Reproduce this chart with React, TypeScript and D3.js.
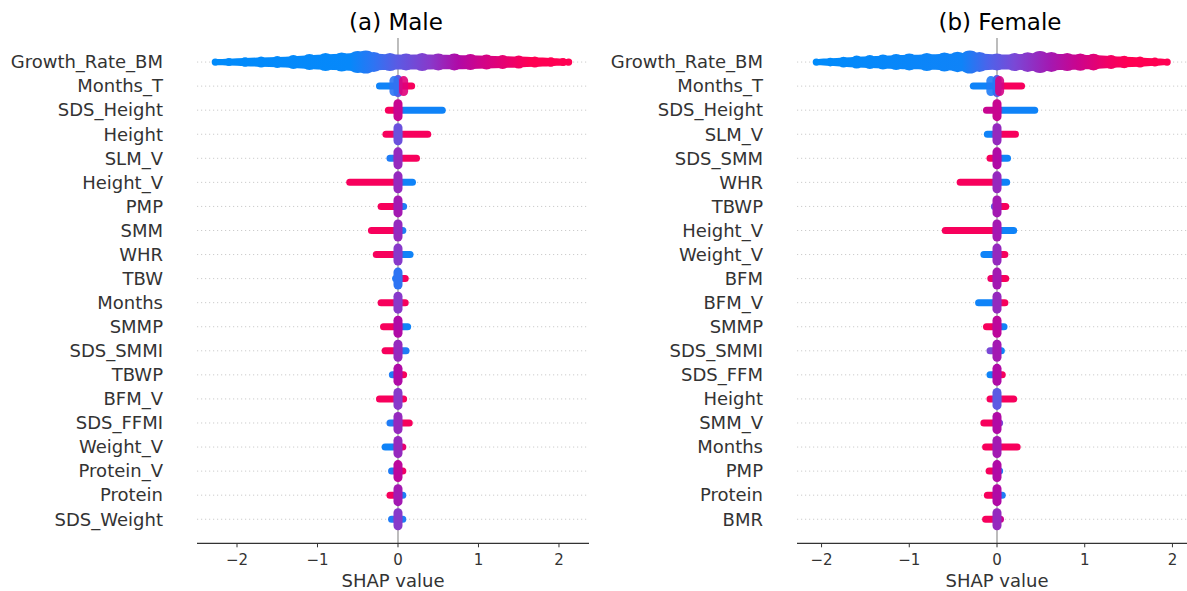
import React from "react";
import * as d3 from "d3";

// ---- data ----
const MALE_FEATURES = ["Growth_Rate_BM", "Months_T", "SDS_Height", "Height", "SLM_V", "Height_V", "PMP", "SMM", "WHR", "TBW", "Months", "SMMP", "SDS_SMMI", "TBWP", "BFM_V", "SDS_FFMI", "Weight_V", "Protein_V", "Protein", "SDS_Weight"];
// min / max SHAP value of each row (row 0 is drawn from its profile)
const MALE_LO = [null, -0.23, -0.12, -0.15, -0.1, -0.6, -0.21, -0.33, -0.27, -0.03, -0.21, -0.18, -0.16, -0.07, -0.23, -0.1, -0.16, -0.08, -0.1, -0.08];
const MALE_HI = [null, 0.17, 0.55, 0.37, 0.23, 0.18, 0.07, 0.06, 0.15, 0.09, 0.09, 0.12, 0.1, 0.07, 0.07, 0.14, 0.06, 0.06, 0.06, 0.06];
// feature value (0 low .. 1 high) at the low end, the high end and the centre
const MALE_LO_T = [null, 0.05, 0.95, 0.95, 0.1, 0.95, 0.95, 0.95, 0.95, 0.1, 0.95, 0.95, 0.95, 0.1, 0.95, 0.1, 0.05, 0.1, 0.95, 0.1];
const MALE_HI_T = [null, 0.95, 0.05, 0.95, 0.95, 0.05, 0.1, 0.1, 0.05, 0.95, 0.95, 0.05, 0.1, 0.95, 0.95, 0.95, 0.85, 0.9, 0.1, 0.1];
const MALE_CORE_T = [null, 0.3, 0.7, 0.35, 0.5, 0.5, 0.55, 0.5, 0.45, 0.15, 0.45, 0.6, 0.5, 0.6, 0.45, 0.5, 0.5, 0.65, 0.55, 0.45];
const MALE_EXTRA_CORES = [[1, -0.05, 0.15], [1, 0.07, 0.8]];
const MALE_TOP_PROFILE = [[-2.27, 0.3], [-2.1, 0.33], [-1.9, 0.4], [-1.7, 0.46], [-1.5, 0.5], [-1.3, 0.58], [-1.1, 0.67], [-0.9, 0.75], [-0.7, 0.79], [-0.5, 0.92], [-0.4, 0.96], [-0.3, 0.83], [-0.1, 0.75], [0.1, 0.71], [0.3, 0.75], [0.5, 0.71], [0.7, 0.71], [0.9, 0.67], [1.1, 0.62], [1.3, 0.58], [1.5, 0.54], [1.7, 0.46], [1.9, 0.4], [2.05, 0.33], [2.12, 0.3]];
const MALE_TOP_COLOR = [[-2.3, 0], [-0.6, 0.02], [-0.3, 0.15], [0.0, 0.3], [0.4, 0.45], [0.75, 0.6], [1.0, 0.72], [1.4, 0.88], [1.65, 1], [2.2, 1]];

const FEMALE_FEATURES = ["Growth_Rate_BM", "Months_T", "SDS_Height", "SLM_V", "SDS_SMM", "WHR", "TBWP", "Height_V", "Weight_V", "BFM", "BFM_V", "SMMP", "SDS_SMMI", "SDS_FFM", "Height", "SMM_V", "Months", "PMP", "Protein", "BMR"];
const FEMALE_LO = [null, -0.27, -0.12, -0.11, -0.08, -0.42, -0.03, -0.59, -0.15, -0.07, -0.21, -0.12, -0.08, -0.08, -0.08, -0.15, -0.13, -0.09, -0.11, -0.13];
const FEMALE_HI = [null, 0.28, 0.43, 0.21, 0.12, 0.11, 0.1, 0.19, 0.09, 0.1, 0.09, 0.08, 0.05, 0.06, 0.19, 0.03, 0.23, 0.03, 0.06, 0.04];
const FEMALE_LO_T = [null, 0.05, 0.7, 0.05, 0.95, 0.95, 0.3, 0.95, 0.05, 0.9, 0.05, 0.95, 0.4, 0.05, 0.95, 0.95, 0.95, 0.95, 0.95, 0.95];
const FEMALE_HI_T = [null, 0.95, 0.05, 0.95, 0.05, 0.05, 0.95, 0.05, 0.95, 0.95, 0.95, 0.05, 0.05, 0.95, 0.95, 0.4, 0.95, 0.1, 0.1, 0.7];
const FEMALE_CORE_T = [null, 0.3, 0.7, 0.5, 0.6, 0.5, 0.55, 0.55, 0.5, 0.55, 0.5, 0.65, 0.55, 0.6, 0.3, 0.6, 0.55, 0.6, 0.6, 0.5];
const FEMALE_EXTRA_CORES = [[1, -0.07, 0.1], [1, 0.03, 0.75]];
const FEMALE_TOP_PROFILE = [[-2.06, 0.3], [-1.9, 0.36], [-1.75, 0.45], [-1.6, 0.54], [-1.45, 0.58], [-1.3, 0.62], [-1.15, 0.67], [-1.0, 0.71], [-0.8, 0.75], [-0.6, 0.79], [-0.45, 0.85], [-0.31, 0.96], [-0.2, 0.83], [0, 0.71], [0.2, 0.75], [0.35, 0.82], [0.49, 0.92], [0.62, 0.83], [0.8, 0.75], [0.95, 0.72], [1.1, 0.7], [1.3, 0.58], [1.45, 0.52], [1.63, 0.46], [1.8, 0.37], [1.94, 0.3]];
const FEMALE_TOP_COLOR = [[-2.1, 0], [-0.4, 0.05], [-0.1, 0.25], [0.2, 0.4], [0.6, 0.55], [0.9, 0.7], [1.25, 0.9], [1.5, 1], [2.0, 1]];

const X_TICKS = [-2, -1, 0, 1, 2];

// ---- styling ----
const W = 1187;
const H = 591;
const FONT = "DejaVu Sans, sans-serif";
const TEXT = "#333333";
const color = d3
  .scaleLinear<string>()
  .domain([0, 0.2, 0.4, 0.6, 0.8, 1])
  .range(["#008bfb", "#3d6cf0", "#7a48d6", "#b00aa6", "#e0007a", "#ff0052"])
  .interpolate(d3.interpolateRgb)
  .clamp(true);

const y = d3.scaleLinear([-1, 20], [38, 543.3]);
const spread = d3.scaleLinear([0, 1], [0, 12]);
const fmt = d3.format("d");

function Panel({ id, title, features, lo, hi, loT, hiT, coreT, extra, profile, profileColor, domain, range }) {
  const x = d3.scaleLinear(domain, range);
  const [x0, x1] = range;
  const cx = (x0 + x1) / 2 + 3;
  const top = y(0);

  const area = d3
    .area<number[]>()
    .x((d) => x(d[0]))
    .y0((d) => top - spread(d[1]) * 0.85)
    .y1((d) => top + spread(d[1]) * 0.85)
    .curve(d3.curveBasis);

  const pLo = x(profile[0][0]);
  const pHi = x(profile[profile.length - 1][0]);
  const pOff = d3.scaleLinear([pLo, pHi], [0, 1]).clamp(true);

  return (
    <g>
      <defs>
        <linearGradient id={`${id}-top`} gradientUnits="userSpaceOnUse" x1={pLo} x2={pHi} y1={0} y2={0}>
          {profileColor.map((d, i) => (
            <stop key={i} offset={pOff(x(d[0]))} stopColor={color(d[1])} />
          ))}
        </linearGradient>
        {features.map((f, i) => {
          if (i === 0) return null;
          const a = x(lo[i]);
          const b = x(hi[i]);
          const c = x(0);
          const off = d3.scaleLinear([a, b], [0, 1]).clamp(true);
          return (
            <linearGradient key={f} id={`${id}-arm-${i}`} gradientUnits="userSpaceOnUse" x1={a} x2={b} y1={0} y2={0}>
              <stop offset={0} stopColor={color(loT[i])} />
              <stop offset={off(c - 6)} stopColor={color(loT[i])} />
              <stop offset={off(c)} stopColor={color(coreT[i])} />
              <stop offset={off(c + 6)} stopColor={color(hiT[i])} />
              <stop offset={1} stopColor={color(hiT[i])} />
            </linearGradient>
          );
        })}
      </defs>

      {/* dotted row guides */}
      {features.map((f, i) => (
        <line key={f} x1={x0} x2={x1} y1={y(i)} y2={y(i)} stroke="#cccccc" strokeWidth={1} strokeDasharray="1.2 2.8" />
      ))}
      <line x1={x(0)} x2={x(0)} y1={y(-1)} y2={y(20)} stroke="#999999" strokeWidth={1.3} />

      {/* top feature: swarm outline with lumpy edge */}
      <path d={area(profile)} fill={`url(#${id}-top)`} />
      {profile.map((d, k) => (
        <circle key={k} cx={x(d[0])} cy={top} r={spread(d[1])} fill={`url(#${id}-top)`} />
      ))}

      {/* other features */}
      {features.map((f, i) => {
        if (i === 0) return null;
        return (
          <g key={f}>
            <line x1={x(lo[i])} x2={x(hi[i])} y1={y(i)} y2={y(i)} stroke={`url(#${id}-arm-${i})`} strokeWidth={7} strokeLinecap="round" />
            <rect x={x(0) - 4.5} y={y(i) - 11} width={9} height={22} rx={4.5} fill={color(coreT[i])} />
          </g>
        );
      })}
      {extra.map((d, k) => (
        <rect key={k} x={x(d[1]) - 4.5} y={y(d[0]) - 10} width={9} height={20} rx={4.5} fill={color(d[2])} opacity={0.9} />
      ))}

      {/* feature names */}
      {features.map((f, i) => (
        <text key={f} x={x0 - 34} y={y(i)} dy="0.35em" textAnchor="end" fontSize={18} fill={TEXT} fontFamily={FONT}>
          {f}
        </text>
      ))}

      {/* x axis */}
      <line x1={x0} x2={x1} y1={y(20)} y2={y(20)} stroke={TEXT} strokeWidth={1.2} />
      {X_TICKS.map((t) => (
        <g key={t} transform={`translate(${x(t)},${y(20)})`}>
          <line y2={4} stroke={TEXT} strokeWidth={1} />
          <text y={22} textAnchor="middle" fontSize={15} fill={TEXT} fontFamily={FONT}>
            {fmt(t)}
          </text>
        </g>
      ))}
      <text x={cx - 3} y={587} textAnchor="middle" fontSize={18} fill={TEXT} fontFamily={FONT}>
        SHAP value
      </text>
      <text x={cx} y={30} textAnchor="middle" fontSize={23} fill="#000" fontFamily={FONT}>
        {title}
      </text>
    </g>
  );
}

export default function App() {
  return (
    <svg width={W} height={H} style={{ position: "absolute", left: 0, top: 0, background: "#fff" }}>
      <Panel
        id="male"
        title="(a) Male"
        features={MALE_FEATURES}
        lo={MALE_LO}
        hi={MALE_HI}
        loT={MALE_LO_T}
        hiT={MALE_HI_T}
        coreT={MALE_CORE_T}
        extra={MALE_EXTRA_CORES}
        profile={MALE_TOP_PROFILE}
        profileColor={MALE_TOP_COLOR}
        domain={[-2.497, 2.373]}
        range={[197, 589]}
      />
      <Panel
        id="female"
        title="(b) Female"
        features={FEMALE_FEATURES}
        lo={FEMALE_LO}
        hi={FEMALE_HI}
        loT={FEMALE_LO_T}
        hiT={FEMALE_HI_T}
        coreT={FEMALE_CORE_T}
        extra={FEMALE_EXTRA_CORES}
        profile={FEMALE_TOP_PROFILE}
        profileColor={FEMALE_TOP_COLOR}
        domain={[-2.28, 2.28]}
        range={[797, 1197]}
      />
    </svg>
  );
}
